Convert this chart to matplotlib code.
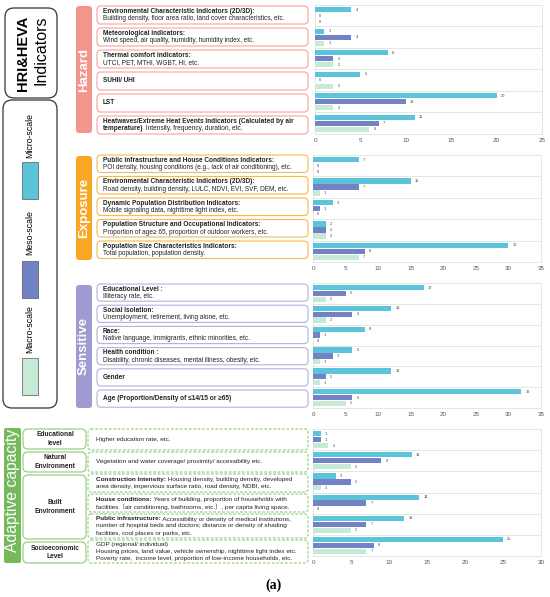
import matplotlib
matplotlib.use('Agg')
import matplotlib.pyplot as plt
from matplotlib.patches import FancyBboxPatch, Rectangle

plt.rcParams['font.family'] = ['Liberation Sans', 'Noto Sans CJK SC', 'DejaVu Sans']

# ---- data (counts of studies: micro / meso / macro scale) ----
hazard_micro = [4, 1, 8, 5, 20, 11]
hazard_meso = [0, 4, 2, 0, 10, 7]
hazard_macro = [0, 1, 2, 2, 2, 6]

exposure_micro = [7, 15, 3, 2, 30]
exposure_meso = [0, 7, 1, 2, 8]
exposure_macro = [0, 1, 0, 2, 7]

sensitive_micro = [17, 12, 8, 6, 12, 32]
sensitive_meso = [5, 6, 1, 3, 2, 6]
sensitive_macro = [2, 2, 0, 1, 1, 5]

adaptive_micro = [1, 13, 3, 14, 12, 25]
adaptive_meso = [1, 9, 5, 7, 7, 8]
adaptive_macro = [2, 5, 1, 0, 5, 7]

hazard_labels = [
    [[("Environmental Characteristic Indicators (2D/3D):", 'bold')],
     [("Building density, floor area ratio, land cover characteristics, etc.", 'normal')]],
    [[("Meteorological indicators:", 'bold')],
     [("Wind speed, air quality, humidity, humidity index, etc.", 'normal')]],
    [[("Thermal comfort indicators:", 'bold')],
     [("UTCI, PET, MTHI, WGBT, HI, etc.", 'normal')]],
    [[("SUHII/ UHI", 'bold')]],
    [[("LST", 'bold')]],
    [[("Heatwaves/Extreme Heat Events Indicators (Calculated by air", 'bold')],
     [("temperature)", 'bold'), (" Intensity, frequency, duration, etc.", 'normal')]],
]
exposure_labels = [
    [[("Public infrastructure and House Conditions Indicators:", 'bold')],
     [("POI density, housing conditions (e.g., lack of air conditioning), etc.", 'normal')]],
    [[("Environmental Characteristic Indicators (2D/3D):", 'bold')],
     [("Road density, building density, LULC, NDVI, EVI, SVF, DEM, etc.", 'normal')]],
    [[("Dynamic Population Distribution Indicators:", 'bold')],
     [("Mobile signaling data, nighttime light index, etc.", 'normal')]],
    [[("Population Structure and Occupational Indicators:", 'bold')],
     [("Proportion of age\u2265 65, proportion of outdoor workers, etc.", 'normal')]],
    [[("Population Size Characteristics Indicators:", 'bold')],
     [("Total population, population density.", 'normal')]],
]
sensitive_labels = [
    [[("Educational Level :", 'bold')], [("Illiteracy rate, etc.", 'normal')]],
    [[("Social Isolation:", 'bold')], [("Unemployment, retirement, living alone, etc.", 'normal')]],
    [[("Race:", 'bold')], [("Native language, immigrants, ethnic minorities, etc.", 'normal')]],
    [[("Health condition :", 'bold')],
     [("Disability, chronic diseases, mental illness, obesity, etc.", 'normal')]],
    [[("Gender", 'bold')]],
    [[("Age (Proportion/Density of \u226414/15 or \u226565)", 'bold')]],
]
adaptive_labels = [
    [[("Higher education rate, etc.", 'normal')]],
    [[("Vegetation and water coverage/ proximity/ accessibility etc.", 'normal')]],
    [[("Construction Intensity:", 'bold'), (" Housing density, building density, developed", 'normal')],
     [("area density, impervious surface ratio, road density, NDBI, etc.", 'normal')]],
    [[("House conditions:", 'bold'), (" Years of building, proportion of households with", 'normal')],
     [("facilities\uff08air conditioning, bathrooms, etc.\uff09, per capita living space.", 'normal')]],
    [[("Public infrastructure:", 'bold'), (" Accessibility or density of medical institutions,", 'normal')],
     [("number of hospital beds and doctors; distance or density of shading", 'normal')],
     [("facilities, cool places or parks, etc.", 'normal')]],
    [[("GDP (regional/ individual)", 'normal')],
     [("Housing prices, land value, vehicle ownership, nighttime light index etc.", 'normal')],
     [("Poverty rate,  income level, proportion of low-income households, etc.", 'normal')]],
]
adaptive_groups = ["Educational\nlevel", "Natural\nEnvironment", "Built\nEnvironment", "Socioeconomic\nLevel"]

c_micro, c_meso, c_macro = '#5bc4da', '#7183c4', '#c6ead6'

W, H = 550, 597
fig = plt.figure(figsize=(W / 100, H / 100), dpi=100)
bg = fig.add_axes([0, 0, 1, 1])
bg.set_xlim(0, W)
bg.set_ylim(H, 0)
bg.axis('off')
renderer = fig.canvas.get_renderer()


def rbox(x0, y0, x1, y1, ec, fc='white', lw=0.8, r=4, ls='-'):
    p = FancyBboxPatch((x0, y0), x1 - x0, y1 - y0,
                       boxstyle='round,pad=0,rounding_size=%g' % r,
                       ec=ec, fc=fc, lw=lw, ls=ls)
    bg.add_patch(p)


def mixed(x, y, parts, fs=4.7):
    # draw a line made of bold / normal pieces side by side
    inv = bg.transData.inverted()
    for s, w in parts:
        t = bg.text(x, y, s, fontsize=fs, fontweight=w, va='center', ha='left', color='#222222')
        bb = t.get_window_extent(renderer)
        x = inv.transform((bb.x1, bb.y0))[0]


def bars(rect, micro, meso, macro, xmax):
    x0, y0, x1, y1 = rect
    ax = fig.add_axes([x0 / W, 1 - y1 / H, (x1 - x0) / W, (y1 - y0) / H])
    n = len(micro)
    ys = [i + 0.5 for i in range(n)]
    h = 0.25
    for vals, off, c in [(micro, -0.28, c_micro), (meso, 0, c_meso), (macro, 0.28, c_macro)]:
        yy = [y + off for y in ys]
        ax.barh(yy, vals, height=h, color=c, zorder=3)
        for v, y in zip(vals, yy):
            ax.annotate(str(v), (v, y), xytext=(3, 0), textcoords='offset points',
                        fontsize=2.9, va='center', color='#444444')
    for i in range(1, n):
        ax.axhline(i, color='#e2e2e2', lw=0.6, zorder=1)
    ax.set_ylim(n, 0)
    ax.set_xlim(0, xmax)
    ax.set_yticks([])
    ax.set_xticks(range(0, xmax + 1, 5))
    ax.tick_params(axis='x', length=0, labelsize=4.5, labelcolor='#555555', pad=3)
    for s in ax.spines.values():
        s.set_color('#e2e2e2')
        s.set_linewidth(0.6)
    return ax


def section(ec, rows, top, row_h, x_txt=103):
    for i, lines in enumerate(rows):
        ya = top + i * row_h
        yb = ya + row_h - 4
        rbox(97, ya, 308, yb, ec)
        if len(lines) == 1:
            mixed(x_txt, (ya + yb) / 2, lines[0])
        else:
            mixed(x_txt, ya + 5.3, lines[0])
            mixed(x_txt, ya + 12.6, lines[1])


# ---- left panel ----
rbox(5, 8, 57, 98, '#333333', lw=0.9, r=9)
bg.text(23.5, 53, 'HRI&HEVA', rotation=90, fontsize=10.5, fontweight='bold', ha='center', va='center')
bg.text(41, 50, 'Indicators', rotation=90, fontsize=11.5, ha='center', va='center')
rbox(3, 100, 57, 408, '#333333', lw=0.9, r=9)
for name, yc, c, ry in [('Micro-scale', 135, c_micro, 162),
                        ('Meso-scale', 233, c_meso, 261),
                        ('Macro-scale', 329, c_macro, 358)]:
    bg.text(30, yc, name, rotation=90, fontsize=6.3, ha='center', va='center')
    bg.add_patch(Rectangle((22, ry), 16, 37, fc=c, ec='#555555', lw=0.5))

# ---- Hazard ----
rbox(76, 6, 92, 133, '#f4958d', fc='#f4958d', lw=0, r=3)
bg.text(84, 70, 'Hazard', rotation=90, color='white', fontsize=9.5, fontweight='bold', ha='center', va='center')
section('#f7a29b', hazard_labels, 6, 22)
bars((315, 5, 542, 134), hazard_micro, hazard_meso, hazard_macro, 25)

# ---- Exposure ----
rbox(76, 156, 92, 260, '#f9a825', fc='#f9a825', lw=0, r=3)
bg.text(84, 208, 'Exposure', rotation=90, color='white', fontsize=9.5, fontweight='bold', ha='center', va='center')
section('#f9b84a', exposure_labels, 155, 21.5)
bars((313, 155, 541, 262), exposure_micro, exposure_meso, exposure_macro, 35)

# ---- Sensitive ----
rbox(76, 285, 92, 408, '#9d9bd0', fc='#9d9bd0', lw=0, r=3)
bg.text(84, 346, 'Sensitive', rotation=90, color='white', fontsize=9.5, fontweight='bold', ha='center', va='center')
section('#b3b1dc', sensitive_labels, 284, 21.2)
bars((313, 283, 541, 408), sensitive_micro, sensitive_meso, sensitive_macro, 35)

# ---- Adaptive capacity ----
rbox(4, 428, 21, 563, '#74b95b', fc='#74b95b', lw=0, r=2)
bg.text(12.5, 490, 'Adaptive capacity', rotation=90, color='white', fontsize=11.3, ha='center', va='center')
group_rows = [(429, 449), (452, 472), (475, 539), (542, 563)]
for g, (ya, yb) in zip(adaptive_groups, group_rows):
    rbox(23, ya, 86, yb, '#8fcb78', lw=0.8, r=5)
    bg.text(55, (ya + yb) / 2, g, fontsize=4.8, fontweight='bold', ha='center', va='center',
            linespacing=1.35, color='#222222')
dash_rows = [(429, 450), (452, 472), (474, 492), (494, 512), (514, 538), (540, 563)]
for lines, (ya, yb) in zip(adaptive_labels, dash_rows):
    rbox(88, ya, 308, yb, '#8fcb78', lw=0.8, r=3, ls=(0, (2.5, 1.5)))
    n = len(lines)
    step = 7.0
    y_first = (ya + yb) / 2 - step * (n - 1) / 2
    for k, ln in enumerate(lines):
        mixed(96, y_first + k * step, ln, fs=4.6)
bars((313, 429, 541, 556), adaptive_micro, adaptive_meso, adaptive_macro, 30)

bg.text(273, 585, '(a)', fontsize=10, family='Liberation Serif', fontweight='bold', ha='center', va='center')

fig.savefig('out.png', dpi=100)
